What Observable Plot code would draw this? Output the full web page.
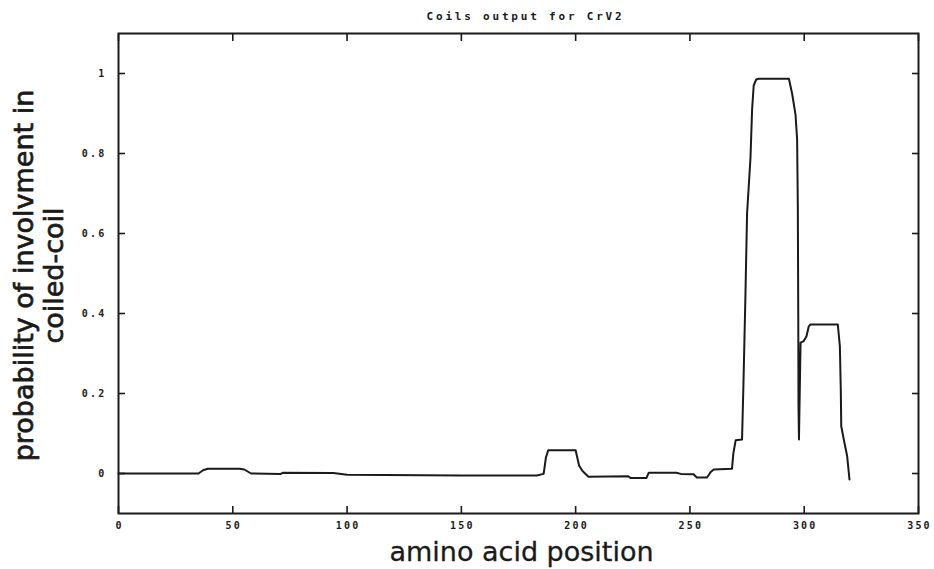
<!DOCTYPE html>
<html>
<head>
<meta charset="utf-8">
<script src="https://cdn.jsdelivr.net/npm/d3@7"></script>
<script src="https://cdn.jsdelivr.net/npm/@observablehq/plot@0.6"></script>
<style>
  html, body { margin: 0; padding: 0; background: #fff; }
</style>
</head>
<body>
<div id="chart"></div>
<script>
const titleText = "Coils output for CrV2";
const xLabel = "amino acid position";
const yLabelLine1 = "probability of involvment in";
const yLabelLine2 = "coiled-coil";

const xTicks = [0, 50, 100, 150, 200, 250, 300, 350];
const yTicks = [0, 0.2, 0.4, 0.6, 0.8, 1];

const positions = [0, 35, 37, 39, 53, 55, 58, 71, 72, 94, 100, 150, 183, 186, 187, 188, 200, 201.5, 203, 205.6,
  223, 224, 231, 232, 244, 246, 251.6, 253, 257.5, 259, 260.4, 268.4, 269, 270, 272.8, 273.4, 274.3, 275, 276.5,
  277.2, 277.9, 279, 280.1, 293.3, 294.7, 296.2, 296.9, 297.2, 297.4, 297.5, 297.7, 298.4, 299.8, 301, 302, 302.7,
  314.7, 315.6, 316, 316.2, 317.6, 318.8, 319.8];
const probability = [0.0, 0.0, 0.008, 0.012, 0.012, 0.010, 0.0, -0.001, 0.002, 0.001, -0.003, -0.005, -0.005, -0.001, 0.04, 0.058, 0.058, 0.02, 0.006, -0.008,
  -0.007, -0.011, -0.011, 0.002, 0.002, -0.001, -0.002, -0.01, -0.01, 0.003, 0.01, 0.012, 0.05, 0.083, 0.085, 0.22, 0.45, 0.65, 0.79,
  0.91, 0.97, 0.985, 0.987, 0.987, 0.95, 0.897, 0.835, 0.67, 0.39, 0.17, 0.085, 0.327, 0.331, 0.343, 0.368, 0.3725,
  0.3725, 0.318, 0.21, 0.118, 0.077, 0.043, -0.015];

const data = positions.map((p, i) => ({pos: p, prob: probability[i]}));

const ink = "#1a1a1a";
const tickFont = "'DejaVu Sans Mono', monospace";
const labelFont = "'DejaVu Sans', Verdana, sans-serif";

const chart = Plot.plot({
  width: 934,
  height: 569,
  marginLeft: 118,
  marginRight: 16,
  marginTop: 33,
  marginBottom: 56,
  style: {background: "#fff", color: ink, fontFamily: tickFont},
  x: {domain: [0, 350]},
  y: {domain: [-0.1, 1.1]},
  marks: [
    Plot.frame({stroke: ink, strokeWidth: 2}),
    Plot.axisX(xTicks, {anchor: "bottom", tickSize: 7, dy: -7, fill: "none", stroke: ink, strokeWidth: 1.6}),
    Plot.axisX(xTicks, {anchor: "top", tickSize: 7, dy: 7, fill: "none", stroke: ink, strokeWidth: 1.6}),
    Plot.axisY(yTicks, {anchor: "left", tickSize: 7, dx: 7, fill: "none", stroke: ink, strokeWidth: 1.6}),
    Plot.axisY(yTicks, {anchor: "right", tickSize: 7, dx: -7, fill: "none", stroke: ink, strokeWidth: 1.6}),
    Plot.axisX(xTicks, {anchor: "bottom", tickSize: 0, tickPadding: 8, label: null, tickFormat: d => String(d), fontSize: 10, fontWeight: "bold", fill: ink, dx: 1}),
    Plot.axisY(yTicks, {anchor: "left", tickSize: 0, tickPadding: 12, label: null, tickFormat: d => String(d), fontSize: 10, fontWeight: "bold", fill: ink}),
    Plot.line(data, {x: "pos", y: "prob", stroke: ink, strokeWidth: 2}),
    Plot.text([titleText], {frameAnchor: "top", text: d => d, lineAnchor: "middle", textAnchor: "middle", dy: -17, dx: 7, fontSize: 11, fontWeight: "bold", fontFamily: tickFont, fill: ink}),
    Plot.text([xLabel], {frameAnchor: "bottom", text: d => d, lineAnchor: "middle", textAnchor: "middle", dy: 39, dx: 3, fontSize: 27, fontFamily: labelFont, fill: ink, stroke: ink, strokeWidth: 0.3}),
    Plot.text([yLabelLine1], {frameAnchor: "left", text: d => d, rotate: -90, lineAnchor: "middle", textAnchor: "middle", dx: -94, dy: 2, fontSize: 27, fontFamily: labelFont, fill: ink, stroke: ink, strokeWidth: 0.7}),
    Plot.text([yLabelLine2], {frameAnchor: "left", text: d => d, rotate: -90, lineAnchor: "middle", textAnchor: "middle", dx: -64, dy: 2, fontSize: 27, fontFamily: labelFont, fill: ink, stroke: ink, strokeWidth: 0.7})
  ]
});
document.getElementById("chart").appendChild(chart);

// wide pixel-font look: spread the monospace glyphs of the title and tick labels
const tickStrings = new Set([...xTicks, ...yTicks].map(String));
d3.select(chart).selectAll("text").each(function () {
  const t = this.textContent;
  if (t === titleText) this.style.letterSpacing = "2.8px";
  else if (tickStrings.has(t)) this.style.letterSpacing = "2.2px";
});
</script>
</body>
</html>
